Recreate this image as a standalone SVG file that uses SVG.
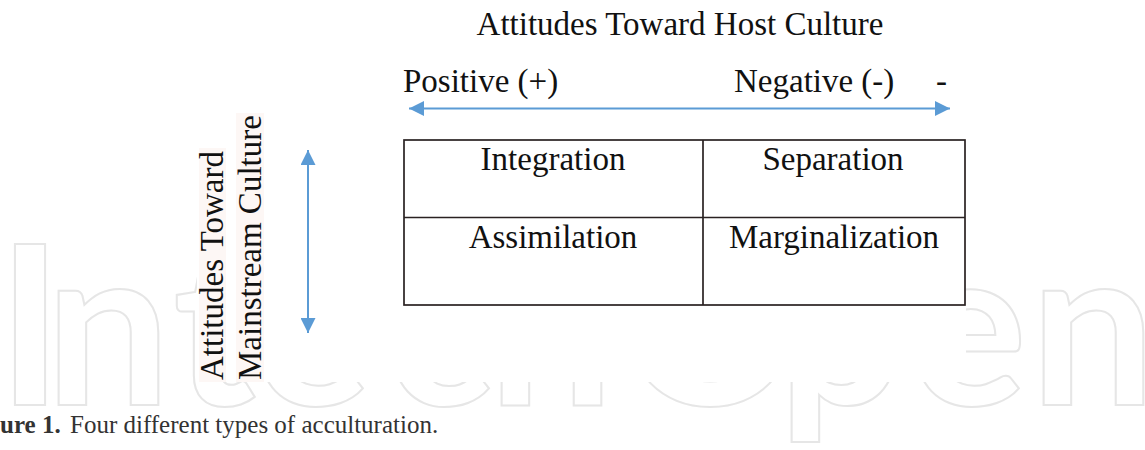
<svg xmlns="http://www.w3.org/2000/svg" width="1145" height="450" viewBox="0 0 1145 450">
<defs>
<style>
.t{font-family:"Liberation Serif","Times New Roman",serif;font-size:33px;fill:#111;}
.c{text-anchor:middle;}
.ln{stroke:#5b9bd5;stroke-width:2;fill:none;}
.cell{fill:#fff;stroke:#2a2222;stroke-width:1.7;}
.wm{font-family:Lato,"DejaVu Sans",sans-serif;font-weight:bold;font-size:223px;fill:none;stroke:#e6e6e6;stroke-width:2;}
.cap{font-family:"Liberation Serif","Times New Roman",serif;font-size:25px;fill:#333;}
</style>
<marker id="ah" viewBox="0 0 10 10" refX="10" refY="5" markerWidth="15" markerHeight="15" markerUnits="userSpaceOnUse" orient="auto-start-reverse">
<path d="M0,0 L10,5 L0,10 z" fill="#5b9bd5"/>
</marker>
</defs>
<rect width="1145" height="450" fill="#fff"/>
<g id="watermark">
<text class="wm" x="-3 45 173 252 385 488 620 778 908 1030" y="405">IntechOpen</text>
</g>
<rect x="197" y="0" width="769" height="382" fill="#fff"/>

<g id="title"><text class="t c" x="680" y="35">Attitudes Toward Host Culture</text></g>
<g id="host-axis-labels">
<text class="t" x="403" y="92">Positive (+)</text>
<text class="t" x="734" y="92">Negative (-)</text>
<text class="t" x="936" y="92">-</text>
</g>
<g id="mainstream-label">
<rect x="199" y="148" width="27" height="234" fill="#fdf7f5"/>
<rect x="236" y="113" width="28" height="269" fill="#fdf7f5"/>
<text class="t" transform="translate(223,380) rotate(-90)">Attitudes Toward</text>
<text class="t" transform="translate(261,380) rotate(-90)">Mainstream Culture</text>
</g>

<g id="connectors">
<line class="ln" x1="409" y1="108.5" x2="950" y2="108.5" marker-start="url(#ah)" marker-end="url(#ah)"/>
<line class="ln" x1="308" y1="150" x2="308" y2="333" marker-start="url(#ah)" marker-end="url(#ah)"/>
</g>

<g id="table">
<rect class="cell" x="404" y="140" width="561" height="165"/>
<line class="cell" x1="703" y1="140" x2="703" y2="305"/>
<line class="cell" x1="404" y1="217.5" x2="965" y2="217.5"/>
</g>
<g id="integration"><text class="t c" x="553" y="170">Integration</text></g>
<g id="separation"><text class="t c" x="833" y="170">Separation</text></g>
<g id="assimilation"><text class="t c" x="553" y="248">Assimilation</text></g>
<g id="marginalization"><text class="t c" x="834" y="248">Marginalization</text></g>

<g id="caption">
<text class="cap" x="0" y="433"><tspan font-weight="bold">ure 1.</tspan><tspan x="70">Four different types of acculturation.</tspan></text>
</g>
</svg>
